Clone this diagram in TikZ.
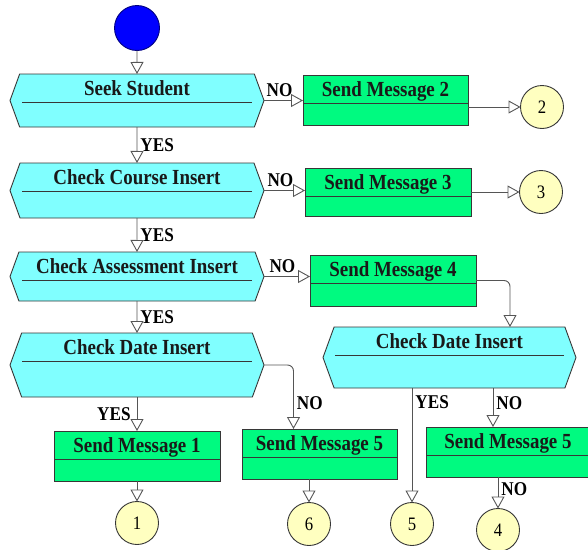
\documentclass[tikz,border=0pt]{standalone}
\usepackage{fontspec}
\setmainfont[FakeStretch=0.88]{Liberation Serif}
\usetikzlibrary{shapes.symbols, arrows.meta}

\definecolor{hexfill}{RGB}{128,255,255}
\definecolor{msgfill}{RGB}{0,250,128}
\definecolor{endfill}{RGB}{255,255,192}
\definecolor{edgecol}{RGB}{55,55,55}
\definecolor{wire}{RGB}{85,85,85}

\newcommand{\boxfont}{\fontsize{21.5}{24}\selectfont\bfseries}
\newcommand{\answerfont}{\fontsize{19.5}{22}\selectfont\bfseries}
\newcommand{\numfont}{\fontsize{19}{22}\selectfont}

\tikzstyle{decision} = [signal, signal to=east and west, signal pointer angle=140, draw=edgecol, line width=0.9pt, fill=hexfill, minimum width=254pt, text height=21pt, inner ysep=0pt, outer sep=0pt, text=black!90, font=\boxfont,
  path picture={\draw[edgecol, line width=0.8pt] ([xshift=12pt,yshift=-28.5pt]path picture bounding box.north west) -- ([xshift=-12pt,yshift=-28.5pt]path picture bounding box.north east);}]
\tikzstyle{message} = [rectangle, draw=edgecol, line width=0.9pt, fill=msgfill, minimum width=166pt, text height=21pt, text depth=29pt, inner ysep=0pt, outer sep=0pt, text=black!90, font=\boxfont,
  path picture={\draw[edgecol, line width=0.8pt] ([yshift=-28pt]path picture bounding box.north west) -- ([yshift=-28pt]path picture bounding box.north east);}]
\tikzstyle{terminal} = [circle, draw=edgecol, line width=0.9pt, fill=endfill, minimum size=43pt, inner sep=0pt, outer sep=0pt, font=\numfont]
\tikzstyle{startdot} = [circle, draw=blue!50!black, line width=0.9pt, fill=blue, minimum size=45pt, inner sep=0pt, outer sep=0pt]
\tikzstyle{line} = [draw=wire, line width=0.9pt, -{Triangle[open, length=12pt, width=13pt]}]
\tikzstyle{answer} = [font=\answerfont, inner sep=3pt]

\begin{document}
\begin{tikzpicture}[x=1pt, y=-1pt]
  \useasboundingbox (0,0) rectangle (588,549);

  % main column
  \node [startdot] (start) at (137,28) {};
  \node [decision, below of=start, node distance=72.5pt, text depth=32pt] (seek) {Seek Student};
  \node [decision, below of=seek, node distance=90pt, text depth=34pt] (course) {Check Course Insert};
  \node [decision, below of=course, node distance=86pt, text depth=28pt] (assess) {Check Assessment Insert};
  \node [decision, below of=assess, node distance=88.5pt, text depth=43pt] (dateL) {Check Date Insert};
  \node [message, below of=dateL, node distance=91pt] (msg1) {Send Message 1};
  \node [terminal, below of=msg1, node distance=67pt] (end1) {1};

  % NO branches
  \node [message, right of=seek, node distance=248.5pt, minimum width=165pt] (msg2) {Send Message 2};
  \node [terminal, right of=msg2, node distance=156.5pt, yshift=-6.5pt] (end2) {2};
  \node [message, right of=course, node distance=251pt, yshift=-1.5pt, text depth=27pt] (msg3) {Send Message 3};
  \node [terminal, right of=msg3, node distance=153pt] (end3) {3};
  \node [message, right of=assess, node distance=256pt, yshift=-4pt, text depth=30pt] (msg4) {Send Message 4};
  \node [decision, below of=msg4, node distance=77pt, xshift=56.5pt, minimum width=253pt, text depth=40pt] (dateR) {Check Date Insert};
  \node [message, right of=msg1, node distance=182.5pt, yshift=2pt, minimum width=155pt] (msg5a) {Send Message 5};
  \node [terminal, below of=msg5a, node distance=70pt, xshift=-10.5pt] (end6) {6};
  \node [terminal, right of=end6, node distance=103pt] (end5) {5};
  \node [message, below of=dateR, node distance=94.5pt, xshift=58.5pt, minimum width=164pt] (msg5b) {Send Message 5};
  \node [terminal, below of=msg5b, node distance=78pt, xshift=-10pt] (end4) {4};

  \path [line] (start) -- (seek);
  \path [line] (seek) -- (course) node [answer, midway, right] {YES};
  \path [line] (course) -- (assess) node [answer, midway, right] {YES};
  \path [line] (assess) -- (dateL) node [answer, midway, right] {YES};
  \path [line] (dateL) -- (msg1) node [answer, midway, left, inner sep=6pt] {YES};
  \path [line] (msg1) -- (end1);

  \path [line] (seek.east) -- (seek.east -| msg2.west) node [answer, pos=0.4, above] {NO};
  \path [line] (msg2.east |- end2.west) -- (end2.west);
  \path [line] (course.east) -- (course.east -| msg3.west) node [answer, pos=0.4, above] {NO};
  \path [line] (msg3.east) -- (end3.west);
  \path [line] (assess.east) -- (assess.east -| msg4.west) node [answer, pos=0.4, above] {NO};
  \path [line, rounded corners=6pt] (msg4.east) -| ([xshift=60.5pt]dateR.north);
  \path [line, rounded corners=6pt] (dateL.east) -| ([xshift=-26pt]msg5a.north) node [answer, pos=0.8, right] {NO};
  \path [line] (msg5a.south -| end6.north) -- (end6.north);
  \path [line] (dateR.south -| end5.north) -- (end5.north) node [answer, pos=0.12, right] {YES};
  \path [line] ([xshift=-15pt]msg5b.north |- dateR.south) -- ([xshift=-15pt]msg5b.north) node [answer, pos=0.4, right] {NO};
  \path [line] (msg5b.south -| end4.north) -- (end4.north) node [answer, pos=0.4, right] {NO};
\end{tikzpicture}
\end{document}
